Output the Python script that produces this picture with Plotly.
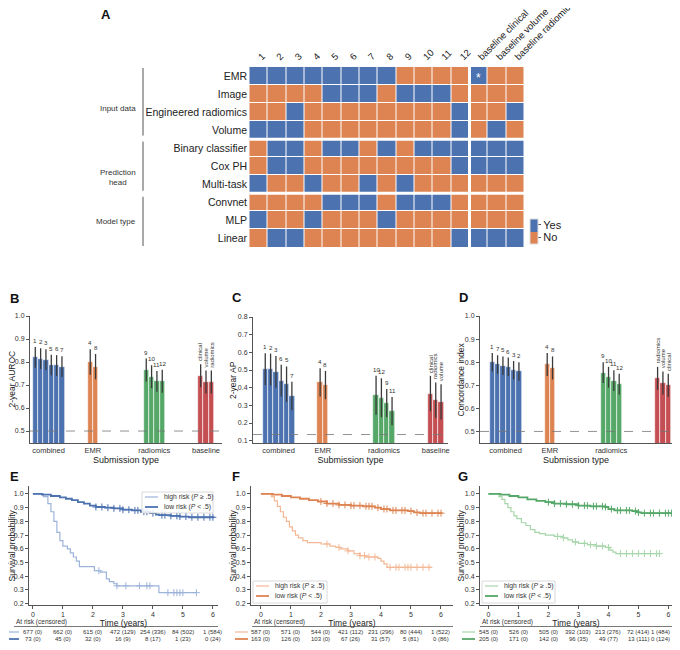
import numpy as np
import plotly.graph_objects as go

# the page keeps an 8 px body margin, so the figure is 16 px smaller than the window
OFF = 8
W, H = 680 - 2 * OFF, 650 - 2 * OFF
FONT = "Liberation Sans, Arial, sans-serif"

# ---------------- panel A data ----------------
col_labels = [str(i) for i in range(1, 13)] + ["baseline clinical", "baseline volume", "baseline radiomics"]
row_labels = ["EMR", "Image", "Engineered radiomics", "Volume",
              "Binary classifier", "Cox PH", "Multi-task",
              "Convnet", "MLP", "Linear"]
emr     = [1, 1, 1, 1, 1, 1, 1, 1, 0, 0, 0, 0, 1, 0, 0]
image   = [0, 0, 0, 0, 1, 1, 1, 0, 1, 1, 1, 0, 0, 0, 0]
eng_rad = [0, 0, 1, 0, 0, 0, 0, 0, 0, 0, 0, 1, 0, 0, 1]
volume  = [1, 1, 1, 0, 0, 0, 0, 0, 0, 0, 0, 1, 0, 1, 0]
binary  = [0, 1, 1, 0, 1, 1, 0, 1, 0, 1, 1, 1, 1, 1, 1]
cox     = [0, 1, 1, 0, 0, 0, 0, 0, 0, 0, 0, 1, 1, 1, 1]
multi   = [1, 0, 0, 1, 0, 0, 1, 0, 1, 0, 0, 0, 0, 0, 0]
convnet = [0, 0, 0, 0, 1, 1, 1, 0, 1, 1, 1, 0, 0, 0, 0]
mlp     = [1, 0, 0, 1, 0, 0, 0, 1, 0, 0, 0, 0, 0, 0, 0]
linear  = [0, 1, 1, 0, 0, 0, 0, 0, 0, 0, 0, 1, 1, 1, 1]
groups_a = [("Input data", 0, 3), ("Prediction<br>head", 4, 6), ("Model type", 7, 9)]

# ---------------- panels B-D data ----------------
sub_types = ["combined", "EMR", "radiomics", "baseline"]
auroc_lab = [["1", "2", "3", "5", "6", "7"], ["4", "8"], ["9", "10", "11", "12"], ["clinical", "volume", "radiomics"]]
auroc     = [[0.82, 0.815, 0.81, 0.787, 0.785, 0.78], [0.80, 0.78], [0.765, 0.736, 0.716, 0.716], [0.74, 0.713, 0.713]]
auroc_err = [[0.045, 0.045, 0.045, 0.045, 0.045, 0.045], [0.055, 0.055], [0.05, 0.05, 0.045, 0.05], [0.05, 0.05, 0.05]]
ap_lab = [["1", "2", "3", "6", "5", "7"], ["4", "8"], ["10", "12", "9", "11"], ["clinical", "radiomics", "volume"]]
ap     = [[0.505, 0.503, 0.49, 0.44, 0.42, 0.353], [0.43, 0.415], [0.357, 0.343, 0.313, 0.268], [0.367, 0.33, 0.32]]
ap_err = [[0.09, 0.09, 0.09, 0.09, 0.1, 0.08], [0.08, 0.08], [0.11, 0.11, 0.08, 0.08], [0.1, 0.1, 0.1]]
ci_lab = [["1", "7", "5", "6", "3", "2"], ["4", "8"], ["9", "10", "11", "12"], ["radiomics", "volume", "clinical"]]
ci     = [[0.80, 0.79, 0.785, 0.78, 0.765, 0.76], [0.79, 0.775], [0.755, 0.735, 0.72, 0.705], [0.73, 0.71, 0.70]]
ci_err = [[0.04, 0.04, 0.04, 0.04, 0.04, 0.04], [0.05, 0.05], [0.045, 0.045, 0.045, 0.045], [0.05, 0.05, 0.05]]
chance = {"auroc": 0.5, "ap": 0.135, "ci": 0.5}

# ---------------- panels E-G data (Kaplan-Meier) ----------------
e_hi_t = [0, 0.35, 0.5, 0.6, 0.7, 0.8, 0.9, 1.0, 1.15, 1.25, 1.35, 1.45, 1.55, 2.05, 2.25, 2.45, 2.55, 2.7, 2.8, 4.2, 5.45]
e_hi_s = [1.0, 0.98, 0.93, 0.87, 0.80, 0.72, 0.66, 0.62, 0.60, 0.57, 0.54, 0.51, 0.47, 0.44, 0.43, 0.38, 0.36, 0.345, 0.33, 0.28, 0.28]
e_hi_c = [2.2, 2.8, 3.1, 3.55, 3.8, 3.9, 4.5, 4.7, 4.8, 4.9, 5.0, 5.45]
e_lo_t = [0, 0.3, 0.6, 0.9, 1.1, 1.3, 1.5, 1.7, 1.9, 2.1, 2.4, 2.7, 3.0, 3.3, 3.6, 3.9, 4.1, 4.2, 4.6, 4.9, 5.2, 6.05]
e_lo_s = [1.0, 0.995, 0.985, 0.975, 0.965, 0.955, 0.94, 0.93, 0.915, 0.905, 0.9, 0.895, 0.885, 0.88, 0.87, 0.86, 0.85, 0.845, 0.84, 0.835, 0.83, 0.83]
e_lo_c = [2.1, 2.3, 2.5, 2.7, 2.9, 3.0, 3.2, 3.4, 3.5, 3.7, 3.8, 4.0, 4.3, 4.4, 4.6, 4.8, 4.9, 5.1, 5.3, 5.5, 5.7, 5.9, 6.0]
e_risk = [["677 (0)", "662 (0)", "615 (0)", "472 (129)", "254 (336)", "84 (502)", "1 (584)"],
          ["73 (0)", "45 (0)", "32 (0)", "16 (9)", "8 (17)", "1 (23)", "0 (24)"]]

f_hi_t = [0, 0.35, 0.45, 0.55, 0.65, 0.75, 0.85, 0.95, 1.05, 1.15, 1.25, 1.4, 1.55, 2.0, 2.3, 2.5, 2.65, 2.9, 3.1, 3.3, 3.5, 3.9, 4.0, 4.1, 4.2, 5.7]
f_hi_s = [1.0, 0.98, 0.95, 0.91, 0.87, 0.83, 0.80, 0.76, 0.73, 0.70, 0.68, 0.66, 0.645, 0.635, 0.62, 0.61, 0.60, 0.585, 0.565, 0.55, 0.54, 0.53, 0.51, 0.49, 0.465, 0.465]
f_hi_c = [2.2, 2.6, 2.9, 3.3, 3.45, 3.6, 3.8, 4.3, 4.5, 4.6, 4.8, 4.9, 5.0, 5.2, 5.4, 5.6]
f_lo_t = [0, 0.4, 0.7, 1.0, 1.3, 1.6, 1.9, 2.2, 2.6, 3.0, 3.4, 3.8, 4.0, 4.3, 4.9, 5.1, 5.3, 6.05]
f_lo_s = [1.0, 0.995, 0.985, 0.975, 0.965, 0.955, 0.945, 0.93, 0.92, 0.915, 0.91, 0.90, 0.89, 0.88, 0.875, 0.865, 0.86, 0.86]
f_lo_c = [2.0, 2.2, 2.4, 2.6, 2.8, 3.0, 3.1, 3.3, 3.5, 3.6, 3.7, 3.9, 4.1, 4.2, 4.4, 4.5, 4.7, 4.8, 5.0, 5.2, 5.4, 5.5, 5.7, 5.9, 6.0]
f_risk = [["587 (0)", "571 (0)", "544 (0)", "421 (112)", "231 (296)", "80 (444)", "1 (522)"],
          ["163 (0)", "126 (0)", "103 (0)", "67 (26)", "31 (57)", "5 (81)", "0 (86)"]]

g_hi_t = [0, 0.35, 0.45, 0.55, 0.65, 0.75, 0.85, 0.95, 1.1, 1.25, 1.4, 1.55, 1.7, 1.9, 2.2, 2.5, 2.65, 2.8, 3.0, 3.3, 3.6, 3.9, 4.05, 4.15, 4.25, 5.7]
g_hi_s = [1.0, 0.98, 0.96, 0.93, 0.90, 0.87, 0.84, 0.82, 0.79, 0.77, 0.74, 0.72, 0.71, 0.70, 0.69, 0.68, 0.665, 0.65, 0.64, 0.63, 0.62, 0.61, 0.59, 0.575, 0.565, 0.565]
g_hi_c = [2.3, 2.5, 2.9, 3.2, 3.4, 3.6, 3.8, 4.0, 4.4, 4.6, 4.8, 5.0, 5.2, 5.4, 5.6, 5.7]
g_lo_t = [0, 0.4, 0.7, 1.0, 1.3, 1.6, 1.9, 2.2, 2.6, 3.0, 3.4, 3.9, 4.0, 4.2, 4.8, 5.0, 5.1, 6.1]
g_lo_s = [1.0, 0.995, 0.985, 0.975, 0.96, 0.95, 0.94, 0.93, 0.925, 0.915, 0.91, 0.905, 0.89, 0.88, 0.875, 0.865, 0.86, 0.86]
g_lo_c = [2.0, 2.2, 2.4, 2.6, 2.8, 3.0, 3.2, 3.3, 3.5, 3.6, 3.8, 3.9, 4.1, 4.3, 4.4, 4.6, 4.7, 4.9, 5.0, 5.2, 5.4, 5.5, 5.7, 5.9, 6.0, 6.1]
g_risk = [["545 (0)", "526 (0)", "505 (0)", "392 (103)", "213 (276)", "72 (414)", "1 (484)"],
          ["205 (0)", "171 (0)", "142 (0)", "96 (35)", "49 (77)", "13 (111)", "0 (124)"]]
years = [0, 1, 2, 3, 4, 5, 6]
risk_names = ["high risk (<i>P</i> ≥ .5)", "low risk (<i>P</i> &lt; .5)"]

BLUE, ORANGE, GREEN, RED = "#4C72B0", "#DD8452", "#55A868", "#C44E52"
LBLUE, LORANGE, LGREEN = "#9db4da", "#f3b895", "#a6d6aa"


def px(x):
    return (x - OFF) / W


def py(y):
    return 1 - (y - OFF) / H


def dom(a, b):
    return [max(0.0, min(1.0, a)), max(0.0, min(1.0, b))]


fig = go.Figure()
annots = []
shapes = []

# ---------------- A: heatmap ----------------
z = [emr, image, eng_rad, volume, binary, cox, multi, convnet, mlp, linear]
fig.add_trace(go.Heatmap(
    z=z, x=col_labels, y=row_labels, zmin=0, zmax=1,
    colorscale=[[0, ORANGE], [0.5, ORANGE], [0.5, BLUE], [1, BLUE]],
    xgap=1, ygap=1, hoverinfo="skip",
    colorbar=dict(x=px(530), xanchor="left", y=py(231), yanchor="middle",
                  len=25 / H, thickness=8, xpad=0, ypad=0, tickvals=[0.25, 0.75], ticktext=["No", "Yes"],
                  ticks="outside", ticklen=3, tickcolor="#555", outlinewidth=1, outlinecolor="#ddd",
                  tickfont=dict(size=11, color="#222", family=FONT)),
    xaxis="x", yaxis="y"))
# group separators
for yy in [3.5, 6.5]:
    shapes.append(dict(type="line", xref="x", yref="y", x0=-0.5, x1=14.5, y0=yy, y1=yy,
                       line=dict(color="white", width=3)))
shapes.append(dict(type="line", xref="x", yref="y", x0=11.5, x1=11.5, y0=-0.5, y1=9.5,
                   line=dict(color="white", width=3)))
annots.append(dict(x=12, y=0, xref="x", yref="y", text="*", showarrow=False,
                   font=dict(size=12, color="white", family=FONT), yshift=-2))
# group brackets
for name, r0, r1 in groups_a:
    y0 = 65 + r0 * 18.4 + 3
    y1 = 65 + (r1 + 1) * 18.4 - 3
    shapes.append(dict(type="line", xref="paper", yref="paper", x0=px(143), x1=px(143),
                       y0=py(y0), y1=py(y1), line=dict(color="#555", width=1)))
    annots.append(dict(x=px(138), y=py((y0 + y1) / 2), xref="paper", yref="paper", text=name,
                       xanchor="right", showarrow=False, align="center",
                       font=dict(size=8, color="#333", family=FONT)))

# ---------------- B-D: bar panels ----------------
group_start = [1.8, 12.1, 22.6, 32.8]
group_col = [BLUE, ORANGE, GREEN, RED]


def bar_panel(ax, vals, errs, labs, line_val):
    xs, ys, es, cs = [], [], [], []
    for g in range(4):
        for i, v in enumerate(vals[g]):
            xs.append(group_start[g] + i + 0.5)
            ys.append(v)
            es.append(errs[g][i])
            cs.append(group_col[g])
            rot = g == 3
            annots.append(dict(x=group_start[g] + i + 0.5, y=v + errs[g][i], xref="x" + ax, yref="y" + ax,
                               text=labs[g][i], showarrow=False, yanchor="bottom",
                               textangle=-90 if rot else 0, yshift=1,
                               font=dict(size=6 if rot else 6.2, color="#333", family=FONT)))
    fig.add_trace(go.Bar(x=xs, y=ys, width=1, marker=dict(color=cs, line=dict(color="white", width=0.6)),
                         error_y=dict(type="data", array=es, color="#3a3a3a", thickness=1.3, width=0),
                         xaxis="x" + ax, yaxis="y" + ax, showlegend=False, hoverinfo="skip"))
    shapes.append(dict(type="line", xref="x" + ax + " domain", yref="y" + ax, x0=0, x1=1,
                       y0=line_val, y1=line_val, line=dict(color="#777", width=0.8, dash="dash")))
    return [group_start[g] + len(vals[g]) / 2 for g in range(4)]


ax_common = dict(showgrid=False, zeroline=False, showline=True, linecolor="#555", linewidth=1, automargin=False,
                 tickfont=dict(size=7, color="#333", family=FONT), ticks="outside", ticklen=3, tickcolor="#555")


def ytitle(text, x, y_mid):
    annots.append(dict(x=px(x), y=py(y_mid), xref="paper", yref="paper", text=text, textangle=-90,
                       xanchor="center", yanchor="middle", showarrow=False,
                       font=dict(size=8.5, color="#222", family=FONT)))


cen = bar_panel("2", auroc, auroc_err, auroc_lab, chance["auroc"])
bar_panel("3", ap, ap_err, ap_lab, chance["ap"])
bar_panel("4", ci, ci_err, ci_lab, chance["ci"])
bar_layout = {}
for ax, dom_x, xr, dom_y, rng, ttl, tv, tx in [
        ("2", (30, 222), [1.31, 37.3], (443, 316), [0.448, 1.0], "2-year AUROC",
         [0.5, 0.6, 0.7, 0.8, 0.9, 1.0], 11),
        ("3", (253, 448), [0, 36.6], (443, 317), [0.087, 0.8], "2-year AP",
         [0.1, 0.2, 0.3, 0.4, 0.5, 0.6, 0.7, 0.8], 233),
        ("4", (480, 672), [0, 36.0], (443, 316), [0.45, 1.0], "Concordance index",
         [0.5, 0.6, 0.7, 0.8, 0.9, 1.0], 460)]:
    bar_layout["xaxis" + ax] = dict(ax_common, domain=dom(px(dom_x[0]), px(dom_x[1])), range=xr,
                                    anchor="y" + ax, tickvals=cen, ticktext=sub_types, ticks="",
                                    tickfont=dict(size=7.5, color="#333", family=FONT),
                                    title=dict(text="Submission type", standoff=0,
                                               font=dict(size=9, color="#222", family=FONT)))
    bar_layout["yaxis" + ax] = dict(ax_common, domain=dom(py(dom_y[0]), py(dom_y[1])), range=rng,
                                    anchor="x" + ax, tickvals=tv, tickformat=".1f")
    ytitle(ttl, tx, (dom_y[0] + dom_y[1]) / 2)

# ---------------- E-G: Kaplan-Meier ----------------
km_layout = {}
km_panels = [
    # axis, x-domain px, x-range, curves, colours, at-risk, legend box px, table sample-line px, header x, title x
    ("5", (29, 218), [-0.13, 6.17], e_hi_t, e_hi_s, e_hi_c, e_lo_t, e_lo_s, e_lo_c, LBLUE, BLUE, e_risk,
     (142, 213, 492, 513), (9, 19), 14, 11),
    ("6", (251, 453), [-0.33, 6.4], f_hi_t, f_hi_s, f_hi_c, f_lo_t, f_lo_s, f_lo_c, LORANGE, ORANGE, f_risk,
     (253, 327, 581, 603), (235, 248), 252, 232),
    ("7", (480, 672), [-0.28, 6.12], g_hi_t, g_hi_s, g_hi_c, g_lo_t, g_lo_s, g_lo_c, LGREEN, GREEN, g_risk,
     (482, 555, 581, 603), (462, 475), 480, 460),
]
KM_TOP, KM_BOT = 486, 605
for k, (ax, dom_x, xr, ht, hs, hc, lt, ls, lc, lcol, dcol, risk, box, samp, hdr_x, tx) in enumerate(km_panels):
    for tt, ss, cc, col, wd, name in [(ht, hs, hc, lcol, 1.2, risk_names[0]),
                                      (lt, ls, lc, dcol, 1.8, risk_names[1])]:
        fig.add_trace(go.Scatter(x=tt, y=ss, mode="lines", line=dict(color=col, width=wd, shape="hv"),
                                 name=name, showlegend=False, xaxis="x" + ax, yaxis="y" + ax, hoverinfo="skip",
                                 cliponaxis=False))
        idx = np.searchsorted(np.array(tt), np.array(cc), side="right") - 1
        fig.add_trace(go.Scatter(x=cc, y=np.array(ss)[idx], mode="markers",
                                 marker=dict(symbol="cross-thin", size=5, line=dict(color=col, width=1)),
                                 showlegend=False, xaxis="x" + ax, yaxis="y" + ax, hoverinfo="skip",
                                 cliponaxis=False))
    # compact legend box
    bx0, bx1, by0, by1 = box
    shapes.append(dict(type="rect", xref="paper", yref="paper", x0=px(bx0), x1=px(bx1), y0=py(by0), y1=py(by1),
                       line=dict(color="#d0d0d0", width=0.8), fillcolor="rgba(255,255,255,0.85)"))
    for r, (col, wd) in enumerate([(lcol, 1.2), (dcol, 1.8)]):
        yy = by0 + 5 + r * 10
        shapes.append(dict(type="line", xref="paper", yref="paper", x0=px(bx0 + 3), x1=px(bx0 + 16),
                           y0=py(yy), y1=py(yy), line=dict(color=col, width=wd)))
        annots.append(dict(x=px(bx0 + 20), y=py(yy), xref="paper", yref="paper", text=risk_names[r],
                           xanchor="left", yanchor="middle", showarrow=False,
                           font=dict(size=6.8, color="#333", family=FONT)))
    km_layout["xaxis" + ax] = dict(ax_common, domain=dom(px(dom_x[0]), px(dom_x[1])), range=xr, anchor="y" + ax,
                                   tickvals=years, title=dict(text="Time (years)", standoff=0,
                                                              font=dict(size=8.5, color="#222", family=FONT)))
    km_layout["yaxis" + ax] = dict(ax_common, domain=dom(py(KM_BOT), py(KM_TOP)), range=[0.19, 1.058],
                                   anchor="x" + ax, tickformat=".1f",
                                   tickvals=[0.2, 0.3, 0.4, 0.5, 0.6, 0.7, 0.8, 0.9, 1.0])
    ytitle("Survival probability", tx, (KM_TOP + KM_BOT) / 2)
    # at risk table
    annots.append(dict(x=px(hdr_x), y=py(621.5), xref="paper", yref="paper", text="At risk (censored)",
                       xanchor="left", yanchor="middle", showarrow=False,
                       font=dict(size=6.5, color="#333", family=FONT)))
    shapes.append(dict(type="line", xref="paper", yref="paper", x0=px(hdr_x), x1=px(dom_x[1]),
                       y0=py(626.5), y1=py(626.5), line=dict(color="#555", width=0.8)))
    for r, (rowv, col, wd) in enumerate([(risk[0], lcol, 1.2), (risk[1], dcol, 1.8)]):
        yy = 632 + r * 7
        shapes.append(dict(type="line", xref="paper", yref="paper", x0=px(samp[0]), x1=px(samp[1]),
                           y0=py(yy), y1=py(yy), line=dict(color=col, width=wd)))
        for yr, txt in zip(years, rowv):
            last = yr == years[-1] and dom_x[1] >= 670
            annots.append(dict(x=xr[1] if last else yr, y=py(yy), xref="x" + ax, yref="paper", text=txt,
                               xanchor="right" if last else "center", yanchor="middle", showarrow=False,
                               font=dict(size=6, color="#333", family=FONT)))

# panel letters
for letter, x, y in [("A", 106, 14), ("B", 14, 298), ("C", 237, 297), ("D", 463, 297),
                     ("E", 14, 477), ("F", 236, 477), ("G", 463, 477)]:
    annots.append(dict(x=px(x), y=py(y), xref="paper", yref="paper", text="<b>%s</b>" % letter,
                       xanchor="center", yanchor="middle",
                       showarrow=False, font=dict(size=13, color="#111", family=FONT)))

fig.update_layout(
    width=W, height=H, margin=dict(l=0, r=0, t=0, b=0, autoexpand=False),
    paper_bgcolor="white", plot_bgcolor="white", showlegend=False,
    font=dict(family=FONT, color="#333"),
    xaxis=dict(domain=dom(px(248), px(526)), side="top", tickangle=-45, showgrid=False, zeroline=False,
               automargin=False, ticks="", tickfont=dict(size=9.5, color="#222", family=FONT), anchor="y"),
    yaxis=dict(domain=dom(py(249), py(65)), autorange="reversed", showgrid=False, zeroline=False,
               automargin=False, ticks="", tickfont=dict(size=10.5, color="#222", family=FONT), anchor="x"),
    annotations=annots, shapes=shapes, bargap=0,
)
fig.update_layout(**bar_layout)
fig.update_layout(**km_layout)

fig.write_html("out.html")
